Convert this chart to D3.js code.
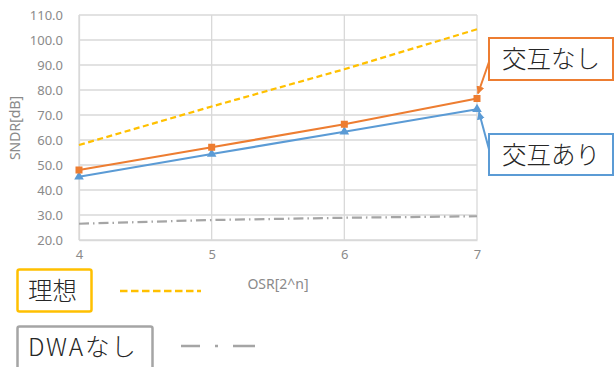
<!DOCTYPE html>
<html><head><meta charset="utf-8">
<script src="https://cdn.jsdelivr.net/npm/d3@7"></script>
<style>body{margin:0;background:#fff}svg{display:block}</style>
</head><body>
<svg id="c" width="614" height="367"></svg>
<script>
const categories = [4, 5, 6, 7];
const yTicks = [20, 30, 40, 50, 60, 70, 80, 90, 100, 110];
const ideal = [58.0, 73.4, 88.3, 104.3];        // 理想
const noInterleave = [48.0, 57.1, 66.3, 76.6];  // 交互なし
const interleave = [45.3, 54.4, 63.3, 72.3];    // 交互あり
const noDWA = [26.5, 28.0, 28.9, 29.5];         // DWAなし

const svg = d3.select("#c");
const x = d3.scaleLinear().domain([4, 7]).range([79, 477]);
const y = d3.scaleLinear().domain([20, 110]).range([240, 15]);
const font = "'Noto Sans CJK JP', 'Noto Sans', sans-serif";
const numFont = "'Noto Sans', sans-serif";
const grid = "#d9d9d9";
const txtGray = "#8a8a8a";

svg.append("g").selectAll("line").data(yTicks).join("line")
  .attr("x1", 79).attr("x2", 477).attr("y1", d => y(d)).attr("y2", d => y(d))
  .attr("stroke", grid).attr("stroke-width", 1.3);
svg.append("g").selectAll("line").data(categories).join("line")
  .attr("x1", d => x(d)).attr("x2", d => x(d)).attr("y1", y(110)).attr("y2", y(20))
  .attr("stroke", grid).attr("stroke-width", 1.3);

const ya = svg.append("g").attr("transform", "translate(79,0)")
  .call(d3.axisLeft(y).tickValues(yTicks).tickFormat(d3.format(".1f")).tickSize(0).tickPadding(16));
ya.select(".domain").attr("stroke", grid).attr("stroke-width", 1.3);
ya.selectAll("text").attr("font-family", numFont).attr("font-size", 13).attr("fill", txtGray);

const xa = svg.append("g").attr("transform", "translate(0,240)")
  .call(d3.axisBottom(x).tickValues(categories).tickFormat(d3.format("d")).tickSize(0).tickPadding(10));
xa.select(".domain").attr("stroke", grid).attr("stroke-width", 1.3);
xa.selectAll("text").attr("font-family", numFont).attr("font-size", 13).attr("fill", txtGray);

svg.append("text").attr("transform", "translate(20,128) rotate(-90)")
  .attr("text-anchor", "middle").attr("font-family", numFont).attr("font-size", 14)
  .attr("fill", txtGray).text("SNDR[dB]");
svg.append("text").attr("x", 278).attr("y", 289).attr("text-anchor", "middle")
  .attr("font-family", numFont).attr("font-size", 14).attr("fill", txtGray).text("OSR[2^n]");

const line = d3.line().x((d, i) => x(categories[i])).y(d => y(d));

svg.append("path").datum(noDWA).attr("d", line).attr("fill", "none")
  .attr("stroke", "#a5a5a5").attr("stroke-width", 2.25).attr("stroke-dasharray", "10,4,1.5,4");
svg.append("path").datum(ideal).attr("d", line).attr("fill", "none")
  .attr("stroke", "#ffc000").attr("stroke-width", 2.25).attr("stroke-dasharray", "6,3.5");
svg.append("path").datum(interleave).attr("d", line).attr("fill", "none")
  .attr("stroke", "#5b9bd5").attr("stroke-width", 2.25);
svg.append("path").datum(noInterleave).attr("d", line).attr("fill", "none")
  .attr("stroke", "#ed7d31").attr("stroke-width", 2.25);

svg.append("g").selectAll("path").data(interleave).join("path")
  .attr("transform", (d, i) => `translate(${x(categories[i])},${y(d)})`)
  .attr("d", d3.symbol().type(d3.symbolTriangle).size(40)).attr("fill", "#5b9bd5");
svg.append("g").selectAll("rect").data(noInterleave).join("rect")
  .attr("x", (d, i) => x(categories[i]) - 3.5).attr("y", d => y(d) - 3.5)
  .attr("width", 7).attr("height", 7).attr("fill", "#ed7d31");

const defs = svg.append("defs");
[["ao", "#ed7d31"], ["ab", "#5b9bd5"]].forEach(([id, c]) => {
  defs.append("marker").attr("id", id).attr("viewBox", "0 0 10 10").attr("refX", 9).attr("refY", 5)
    .attr("markerWidth", 4).attr("markerHeight", 4).attr("orient", "auto")
    .append("path").attr("d", "M0,0L10,5L0,10z").attr("fill", c);
});

function callout(x0, y0, w, h, color, label, ax1, ay1, ax2, ay2, mk) {
  svg.append("line").attr("x1", ax1).attr("y1", ay1).attr("x2", ax2).attr("y2", ay2)
    .attr("stroke", color).attr("stroke-width", 2).attr("marker-end", `url(#${mk})`);
  svg.append("rect").attr("x", x0).attr("y", y0).attr("width", w).attr("height", h)
    .attr("fill", "#fff").attr("stroke", color).attr("stroke-width", 2);
  svg.append("text").attr("x", x0 + 13).attr("y", y0 + h / 2 + 9)
    .attr("font-family", font).attr("font-weight", 300).attr("font-size", 24.5).attr("fill", "#262626").text(label);
}
callout(489, 38, 124, 42, "#ed7d31", "交互なし", 490, 59, x(7) + 1, y(noInterleave[3]) - 5, "ao");
callout(489, 134, 124, 41, "#5b9bd5", "交互あり", 490, 153, x(7) + 2, y(interleave[3]) + 3, "ab");

svg.append("rect").attr("x", 17.5).attr("y", 269.5).attr("width", 74).attr("height", 42).attr("rx", 2)
  .attr("fill", "#fff").attr("stroke", "#ffc000").attr("stroke-width", 2.5);
svg.append("text").attr("x", 28).attr("y", 299.5).attr("font-family", font).attr("font-weight", 300).attr("font-size", 24.5)
  .attr("fill", "#262626").text("理想");
svg.append("line").attr("x1", 120).attr("x2", 201).attr("y1", 291).attr("y2", 291)
  .attr("stroke", "#ffc000").attr("stroke-width", 2.5).attr("stroke-dasharray", "7.5,3.5");

svg.append("rect").attr("x", 17.5).attr("y", 326.5).attr("width", 135).attr("height", 44).attr("rx", 2)
  .attr("fill", "#fff").attr("stroke", "#a5a5a5").attr("stroke-width", 2.5);
svg.append("text").attr("x", 28).attr("y", 356).attr("font-family", font).attr("font-weight", 300).attr("font-size", 24.5)
  .attr("letter-spacing", 1.8).attr("fill", "#262626").text("DWAなし");
svg.append("line").attr("x1", 181).attr("x2", 255).attr("y1", 346).attr("y2", 346)
  .attr("stroke", "#a5a5a5").attr("stroke-width", 2.5).attr("stroke-dasharray", "19,15,3,15,30");
</script>
</body></html>
